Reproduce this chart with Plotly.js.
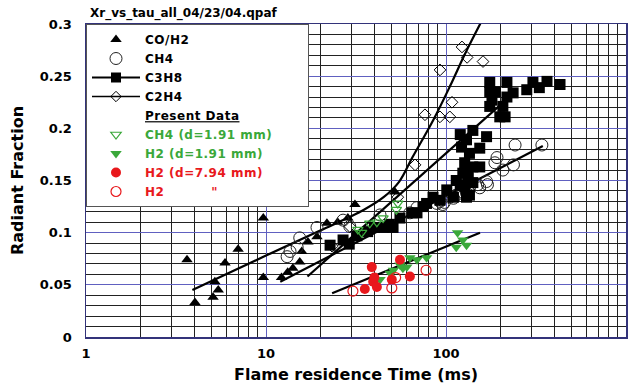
<!DOCTYPE html>
<html>
<head>
<meta charset="utf-8">
<script src="https://cdn.plot.ly/plotly-3.0.1.min.js"></script>
<style>
  html, body { margin: 0; padding: 0; background: #fff; }
  #chart { width: 636px; height: 385px; }
  #chart .legendtext { letter-spacing: 0.5px; }
</style>
</head>
<body>
<div id="chart"></div>
<script>
// ---------------- data ----------------
const coH2_x = [3.64, 4.03, 5.08, 5.2, 5.43, 5.92, 7.0, 9.66, 9.66, 12.2, 13.2, 14.1, 15.4, 15.8, 17.1, 19.2, 21.8, 25, 28.5, 31.2, 52];
const coH2_y = [0.074, 0.033, 0.038, 0.053, 0.045, 0.071, 0.084, 0.114, 0.057, 0.057, 0.062, 0.066, 0.072, 0.082, 0.091, 0.096, 0.109, 0.110, 0.114, 0.127, 0.139];

const ch4_x = [13.1, 13.6, 14.9, 15.4, 19.2, 26.8, 29.2, 43, 63, 69, 89, 92.6, 96, 98, 105, 110, 114, 124, 130, 135, 150, 154, 168, 170, 187, 192, 207, 237, 242, 341];
const ch4_y = [0.077, 0.082, 0.086, 0.095, 0.105, 0.112, 0.106, 0.117, 0.119, 0.124, 0.128, 0.130, 0.127, 0.129, 0.134, 0.133, 0.136, 0.139, 0.138, 0.143, 0.146, 0.143, 0.149, 0.146, 0.167, 0.172, 0.160, 0.165, 0.184, 0.184];

const c3h8_x = [22.7, 26.8, 29, 32, 36.7, 40, 44.7, 48.5, 50.8, 55.5, 65, 69, 74.5, 78, 84.7, 92.6, 101, 110, 114, 120, 124, 127, 130, 135,
                120, 122, 127, 130, 130, 133, 135, 141, 141, 141, 154, 154, 168, 175, 175, 175, 180, 188, 199, 207, 213, 218, 218, 236, 281, 304, 330, 364, 430];
const c3h8_y = [0.088, 0.093, 0.089, 0.097, 0.101, 0.105, 0.105, 0.108, 0.105, 0.114, 0.119, 0.119, 0.125, 0.128, 0.134, 0.131, 0.141, 0.134, 0.150, 0.146, 0.157, 0.144, 0.134, 0.136,
                0.194, 0.182, 0.167, 0.189, 0.157, 0.153, 0.176, 0.198, 0.163, 0.148, 0.181, 0.163, 0.192, 0.244, 0.235, 0.221, 0.227, 0.235, 0.211, 0.221, 0.211, 0.230, 0.244, 0.234, 0.237, 0.244, 0.239, 0.245, 0.242];

const c2h4_x = [23.3, 29.2, 54, 67.3, 76.4, 92.6, 105, 108, 92.6, 122.7, 131, 160.6];
const c2h4_y = [0.087, 0.106, 0.134, 0.165, 0.213, 0.211, 0.211, 0.225, 0.256, 0.278, 0.268, 0.264];

const ch4Present_x = [32.4, 34, 37.7, 41.3, 44.7, 53, 54];
const ch4Present_y = [0.103, 0.100, 0.109, 0.110, 0.114, 0.122, 0.128];

const h2Small_x = [43, 49, 51, 55.5, 57.6, 60.6, 63, 69, 78, 114, 116, 124, 130];
const h2Small_y = [0.055, 0.061, 0.064, 0.069, 0.066, 0.067, 0.076, 0.074, 0.076, 0.086, 0.100, 0.093, 0.088];

const h2Large_x = [35.4, 38.7, 39.4, 40, 41.3, 50, 55.5, 63];
const h2Large_y = [0.046, 0.067, 0.053, 0.057, 0.048, 0.055, 0.074, 0.058];

const h2Open_x = [30.4, 50, 52.5, 77.5];
const h2Open_y = [0.044, 0.047, 0.057, 0.064];

// fitted lines
const fitC2H4_x = [3.9, 10, 20, 35, 45, 55, 65, 85, 105, 128, 158];
const fitC2H4_y = [0.045, 0.078, 0.102, 0.122, 0.134, 0.149, 0.172, 0.208, 0.240, 0.272, 0.303];
const fitCH4_x = [12, 345];
const fitCH4_y = [0.053, 0.183];
const fitC3H8_x = [17, 218];
const fitC3H8_y = [0.058, 0.228];
const fitH2_x = [23.3, 154.5];
const fitH2_y = [0.042, 0.100];

const xTicks = [1, 10, 100, 1000];
const xTickText = ['1', '10', '100', '1000'];

// ---------------- styling ----------------
const GREEN = '#3aa83a';
const RED = '#e8181c';
const FONT = 'DejaVu Sans, Arial, sans-serif';
const NB = '\u00A0';

const fitLine = {color: '#000', width: 2.2};

const traces = [
  // fit lines (no legend)
  {x: fitC2H4_x, y: fitC2H4_y, mode: 'lines', line: {color: '#000', width: 2.2, shape: 'spline', smoothing: 1},
   showlegend: false, hoverinfo: 'skip'},
  {x: fitCH4_x, y: fitCH4_y, mode: 'lines', line: fitLine, showlegend: false, hoverinfo: 'skip'},
  {x: fitC3H8_x, y: fitC3H8_y, mode: 'lines', line: fitLine, showlegend: false, hoverinfo: 'skip'},
  {x: fitH2_x, y: fitH2_y, mode: 'lines', line: fitLine, showlegend: false, hoverinfo: 'skip'},

  // data
  {x: coH2_x, y: coH2_y, mode: 'markers', name: 'CO/H2', legendrank: 1,
   marker: {symbol: 'triangle-up', size: 10, color: '#000'}},
  {x: ch4_x, y: ch4_y, mode: 'markers', name: 'CH4', legendrank: 2,
   marker: {symbol: 'circle-open', size: 12, color: '#222', line: {width: 1}}},
  {x: c3h8_x, y: c3h8_y, mode: 'markers', showlegend: false,
   marker: {symbol: 'square', size: 11, color: '#000'}},
  {x: [null], y: [null], mode: 'lines+markers', name: 'C3H8', legendrank: 3,
   line: {color: '#000', width: 2}, marker: {symbol: 'square', size: 10, color: '#000'}},
  {x: c2h4_x, y: c2h4_y, mode: 'markers', showlegend: false,
   marker: {symbol: 'diamond-open', size: 9, color: '#000', line: {width: 1}}},
  {x: [null], y: [null], mode: 'lines+markers', name: 'C2H4', legendrank: 4,
   line: {color: '#000', width: 1.5}, marker: {symbol: 'diamond-open', size: 8, color: '#000', line: {width: 1}}},
  {x: [null], y: [null], mode: 'markers', name: '<u>Present Data</u>', legendrank: 5,
   marker: {size: 1, color: 'rgba(0,0,0,0)'}},
  {x: ch4Present_x, y: ch4Present_y, mode: 'markers', legendrank: 6,
   name: '<span style="color:' + GREEN + '">CH4 (d=1.91 mm)' + NB.repeat(9) + '</span>',
   marker: {symbol: 'triangle-down-open', size: 9, color: GREEN, line: {width: 1.2}}},
  {x: h2Small_x, y: h2Small_y, mode: 'markers', legendrank: 7,
   name: '<span style="color:' + GREEN + '">H2 (d=1.91 mm)</span>',
   marker: {symbol: 'triangle-down', size: 10, color: GREEN}},
  {x: h2Large_x, y: h2Large_y, mode: 'markers', legendrank: 8,
   name: '<span style="color:' + RED + '">H2 (d=7.94 mm)</span>',
   marker: {symbol: 'circle', size: 10, color: RED}},
  {x: h2Open_x, y: h2Open_y, mode: 'markers', legendrank: 9,
   name: '<span style="color:' + RED + '">H2' + NB.repeat(10) + '"</span>',
   marker: {symbol: 'circle-open', size: 10, color: RED, line: {width: 1.2}}}
];

const layout = {
  width: 636, height: 385,
  margin: {l: 86, r: 10, t: 24, b: 48},
  paper_bgcolor: '#fff', plot_bgcolor: '#fff',
  font: {family: FONT, size: 13, color: '#000', weight: 'bold'},
  showlegend: true,
  legend: {
    x: 0, y: 1, xanchor: 'left', yanchor: 'top',
    bgcolor: '#fff', bordercolor: '#555', borderwidth: 1,
    font: {family: FONT, size: 12, color: '#000', weight: 'bold'},
    itemwidth: 48, traceorder: 'normal'
  },
  xaxis: {
    type: 'log', range: [0, 3],
    tickvals: xTicks, ticktext: xTickText,
    showgrid: true, gridcolor: '#6060c0', gridwidth: 1,
    minor: {dtick: 'D1', showgrid: true, gridcolor: '#222', gridwidth: 1, ticks: ''},
    showline: true, mirror: true, linecolor: '#33337a', linewidth: 1.5,
    ticks: '', zeroline: false, ticklabelstandoff: 4,
    tickfont: {family: FONT, size: 13, weight: 'bold'},
    title: {text: 'Flame residence Time (ms)', standoff: 8,
            font: {family: FONT, size: 16, weight: 'bold'}}
  },
  yaxis: {
    range: [0, 0.3], dtick: 0.05,
    showgrid: true, gridcolor: '#6060c0', gridwidth: 1,
    minor: {dtick: 0.01, showgrid: true, gridcolor: '#222', gridwidth: 1, ticks: ''},
    showline: true, mirror: true, linecolor: '#33337a', linewidth: 1.5,
    ticks: '', zeroline: false, ticklabelstandoff: 10,
    tickfont: {family: FONT, size: 13, weight: 'bold'},
    title: {text: 'Radiant Fraction', standoff: 12,
            font: {family: FONT, size: 16, weight: 'bold'}}
  },
  annotations: [{
    xref: 'paper', yref: 'paper', x: 0, y: 1, xanchor: 'left', yanchor: 'bottom',
    xshift: 2, yshift: 1, showarrow: false,
    text: 'Xr_vs_tau_all_04/23/04.qpaf',
    font: {family: FONT, size: 12, weight: 'bold', color: '#000'}
  }]
};

Plotly.newPlot('chart', traces, layout, {displayModeBar: false, staticPlot: true});
</script>
</body>
</html>
